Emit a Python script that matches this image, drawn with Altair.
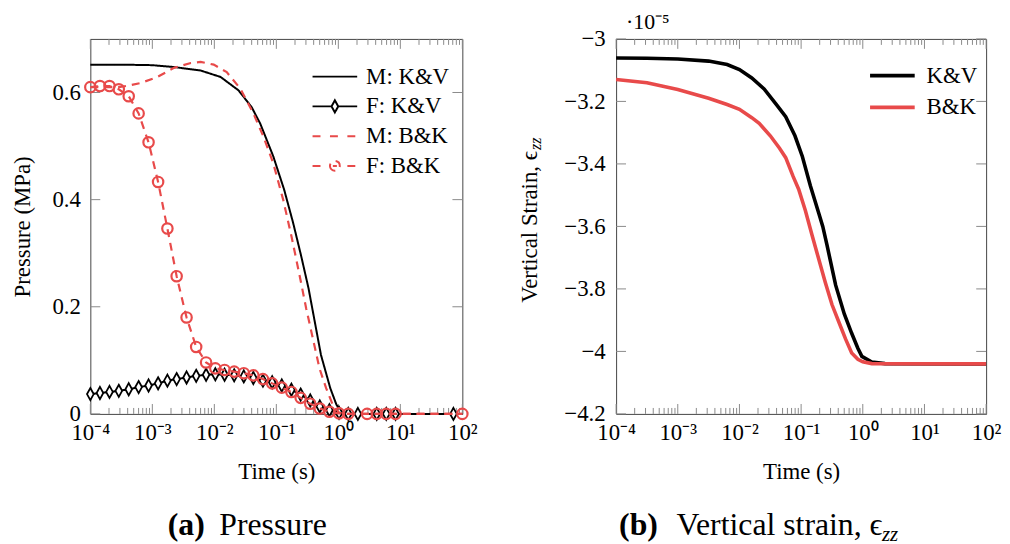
import altair as alt
import pandas as pd

FONT = "Liberation Serif"
RED = "#E84A4A"
BLACK = "#000000"
TICK = "#8a8a8a"

# ---------------- data: panel (a) pressure (MPa), x given as log10(time) ----------------
MKV_LT = [-4, -3.5, -3.0, -2.65, -2.22, -1.9, -1.61, -1.4, -1.26, -1.05, -0.875, -0.73,
          -0.6, -0.48, -0.38, -0.28, -0.13, -0.03, 0.06, 0.12, 2.0]
MKV_P = [0.652, 0.652, 0.651, 0.6475, 0.641, 0.629, 0.604, 0.573, 0.542, 0.481, 0.419, 0.357,
         0.295, 0.234, 0.172, 0.110, 0.048, 0.017, 0.002, 0.0, 0.0]

MBK_LT = [-4, -3.54, -3.38, -3.18, -2.92, -2.65, -2.38, -2.22, -2.01, -1.80, -1.58, -1.37,
          -1.21, -1.05, -0.89, -0.757, -0.624, -0.517, -0.411, -0.304, -0.197, -0.09, 0.016,
          0.12, 2.0]
MBK_P = [0.610, 0.610, 0.613, 0.618, 0.629, 0.646, 0.655, 0.657, 0.652, 0.638, 0.607, 0.561,
         0.518, 0.468, 0.400, 0.332, 0.258, 0.196, 0.141, 0.085, 0.048, 0.017, 0.002,
         0.0, 0.0]

FKV_LT = [-4, -3.845, -3.691, -3.541, -3.381, -3.221, -3.061, -2.907, -2.757, -2.608,
          -2.448, -2.293, -2.133, -1.984, -1.835, -1.68, -1.525, -1.371, -1.216, -1.067,
          -0.912, -0.757, -0.608, -0.453, -0.299, -0.144, 0.011, 0.16, 0.315,
          0.619, 0.773, 0.923, 1.856]
FKV_P = [0.037, 0.039, 0.041, 0.043, 0.046, 0.050, 0.053, 0.057, 0.062, 0.065,
         0.068, 0.071, 0.073, 0.074, 0.073, 0.072, 0.070, 0.067, 0.062, 0.059,
         0.053, 0.045, 0.036, 0.025, 0.014, 0.007, 0.002, 0.0, 0.0,
         0.0, 0.0, 0.0, 0.0]

FBK_LT = [-4, -3.845, -3.691, -3.541, -3.381, -3.221, -3.061, -2.907, -2.757, -2.608,
          -2.448, -2.293, -2.133, -1.984, -1.835, -1.68, -1.525, -1.371, -1.216, -1.067,
          -0.912, -0.757, -0.608, -0.453, -0.299, -0.144, 0.011, 0.16,
          0.464, 0.619, 0.773, 0.923, 2.0]
FBK_P = [0.610, 0.612, 0.612, 0.606, 0.593, 0.561, 0.507, 0.433, 0.346, 0.257,
         0.180, 0.125, 0.096, 0.085, 0.082, 0.079, 0.076, 0.072, 0.065, 0.057,
         0.049, 0.041, 0.030, 0.019, 0.010, 0.004, 0.001, 0.0,
         0.0, 0.0, 0.0, 0.0, 0.0]

SERIES_A = ["M: K&V", "F: K&V", "M: B&K", "F: B&K"]

# ---------------- data: panel (b) vertical strain (x 1e-5) ----------------
KV_LT = [-4, -3.5, -3.0, -2.5, -2.2, -2.0, -1.8, -1.6, -1.4, -1.25, -1.1, -0.98, -0.85,
         -0.71, -0.649, -0.58, -0.44, -0.3, -0.18, -0.08, -0.015, 0.146, 0.36, 2.0]
KV_E = [-3.061, -3.062, -3.064, -3.071, -3.082, -3.098, -3.125, -3.16, -3.21, -3.249, -3.31,
        -3.376, -3.47, -3.56, -3.60, -3.66, -3.788, -3.88, -3.942, -3.99, -4.016, -4.034,
        -4.039, -4.04]
BK_LT = [-4, -3.5, -3.0, -2.5, -2.2, -2.0, -1.8, -1.68, -1.5, -1.35, -1.25, -1.13, -1.04,
         -0.93, -0.82, -0.61, -0.5, -0.39, -0.28, -0.18, -0.08, 0.0, 0.146, 2.0]
BK_E = [-3.130, -3.140, -3.162, -3.19, -3.21, -3.225, -3.252, -3.27, -3.31, -3.35, -3.38,
        -3.44, -3.481, -3.55, -3.63, -3.778, -3.85, -3.905, -3.96, -4.005, -4.025, -4.033,
        -4.039, -4.04]
SERIES_B = ["K&V", "B&K"]

# ---------------- axes ----------------
X_EXP = [-4, -3, -2, -1, 0, 1, 2]
X_TICKS = [10.0 ** e for e in X_EXP]
X_MINOR = [k * 10.0 ** e for e in range(-4, 2) for k in range(2, 10)]
SUP = {-4: "⁻⁴", -3: "⁻³", -2: "⁻²", -1: "⁻¹", 0: "⁰", 1: "¹", 2: "²"}
YA_TICKS = [0, 0.2, 0.4, 0.6]
YB_TICKS = [-4.2, -4.0, -3.8, -3.6, -3.4, -3.2, -3.0]

W, H = 375, 378
W2 = 373

expr = "'?'"
for e in reversed(X_EXP):
    expr = f"round(log(datum.value)/LN10) == {e} ? '{SUP[e]}' : ({expr})"
LABEL_EXPR = "'10' + (" + expr + ")"

GUIDE = dict(labelFont=FONT, titleFont=FONT, labelFontSize=23, titleFontSize=23,
             titleFontWeight="normal", labelColor="black", titleColor="black",
             grid=False, ticks=False, domain=False, tickSize=0)


def xaxis():
    return alt.Axis(values=X_TICKS, labelExpr=LABEL_EXPR, title="Time (s)",
                    labelFlush=False, labelOverlap=False, labelPadding=8,
                    titlePadding=16, **GUIDE)


def tick_layers(xs, ys, yfield, width, height, yticks):
    """Inward-pointing pgfplots style ticks on all four sides (drawn through the scales)."""
    out = []
    for vals, L in ((X_TICKS, 10), (X_MINOR, 6)):
        base = alt.Chart(pd.DataFrame({"t": vals})).mark_rule(color=TICK, strokeWidth=1)
        out.append(base.encode(x=alt.X("t:Q", scale=xs), y=alt.value(0), y2=alt.value(L)))
        out.append(base.encode(x=alt.X("t:Q", scale=xs),
                               y=alt.value(height), y2=alt.value(height - L)))
    base = alt.Chart(pd.DataFrame({yfield: yticks})).mark_rule(color=TICK, strokeWidth=1)
    out.append(base.encode(y=alt.Y(f"{yfield}:Q", scale=ys),
                           x=alt.value(0), x2=alt.value(10)))
    out.append(base.encode(y=alt.Y(f"{yfield}:Q", scale=ys),
                           x=alt.value(width), x2=alt.value(width - 10)))
    return out


def text_layer(label, x, y, size, align="left", weight="normal", style="normal",
               angle=0, baseline="alphabetic"):
    return alt.Chart(pd.DataFrame({"label": [label]})).mark_text(
        font=FONT, fontSize=size, align=align, baseline=baseline, fontWeight=weight,
        fontStyle=style, angle=angle, color="black"
    ).encode(text="label:N", x=alt.value(x), y=alt.value(y))


def long(lt, vals, name, key):
    return pd.DataFrame({"t": [10.0 ** v for v in lt], key: vals, "series": name})


# ---------------- panel (a) ----------------
xs_a = alt.Scale(type="log", domain=[1e-4, 100], nice=False)
ys_a = alt.Scale(domain=[0, 0.7], nice=False, zero=False)

kv_lines = pd.concat([long(MKV_LT, MKV_P, "M: K&V", "p"), long(FKV_LT, FKV_P, "F: K&V", "p")])
bk_lines = pd.concat([long(MBK_LT, MBK_P, "M: B&K", "p"), long(FBK_LT, FBK_P, "F: B&K", "p")])
kv_pts = long(FKV_LT, FKV_P, "F: K&V", "p")
bk_pts = long(FBK_LT, FBK_P, "F: B&K", "p")

# legend key glyphs (line + marker drawn as one symbol path each)
LEG_SYM = [
    "M-1,0L1,0",
    "M-1,0L-0.15,0M0.15,0L1,0M0,-0.27L0.15,0L0,0.27L-0.15,0Z",
    "M-1,0L-0.56,0M-0.22,0L0.22,0M0.56,0L1,0",
    "M-1,0L-0.56,0M-0.09,0L0.09,0M0.56,0L1,0"
    "M-0.22,0A0.22,0.22 0 1,0 0.22,0A0.22,0.22 0 1,0 -0.22,0",
]

legend_a = alt.Legend(
    orient="none", legendX=223, legendY=26, title=None, padding=0,
    labelFont=FONT, labelFontSize=23, labelColor="black", labelOffset=8,
    symbolSize=2025, symbolStrokeWidth=2, clipHeight=24, rowPadding=6,
    symbolFillColor="white")
color_a = alt.Color("series:N", scale=alt.Scale(domain=SERIES_A,
                    range=[BLACK, BLACK, RED, RED]), legend=legend_a)
shape_a = alt.Shape("series:N", scale=alt.Scale(domain=SERIES_A, range=LEG_SYM),
                    legend=legend_a)
dash_a = alt.StrokeDash("series:N", scale=alt.Scale(domain=SERIES_A,
                        range=[[1, 0], [1, 0], [8, 6], [8, 6]]), legend=None)

yaxis_a = alt.Axis(values=YA_TICKS, format=".1~f", title="Pressure (MPa)",
                   labelPadding=10, titlePadding=18, **GUIDE)

# empty layer that carries the legend (colour + key glyph per series)
legend_layer = alt.Chart(pd.DataFrame({"t": [], "p": [], "series": []})).mark_point(
    filled=False, strokeWidth=2, opacity=1).encode(
    x=alt.X("t:Q", scale=xs_a, axis=xaxis()), y=alt.Y("p:Q", scale=ys_a, axis=yaxis_a),
    color=color_a, shape=shape_a)
kv_layer = alt.Chart(kv_lines).mark_line(strokeWidth=2).encode(
    x=alt.X("t:Q", scale=xs_a), y=alt.Y("p:Q", scale=ys_a),
    color=color_a, strokeDash=dash_a, detail="series:N")
diam_layer = alt.Chart(kv_pts).mark_point(
    shape="M0,-1L0.55,0L0,1L-0.55,0Z", size=150, filled=True, fill="white",
    stroke=BLACK, strokeWidth=1.8, opacity=1).encode(
    x=alt.X("t:Q", scale=xs_a), y=alt.Y("p:Q", scale=ys_a))
bk_layer = alt.Chart(bk_lines).mark_line(strokeWidth=2.2).encode(
    x=alt.X("t:Q", scale=xs_a), y=alt.Y("p:Q", scale=ys_a),
    color=color_a, strokeDash=dash_a, detail="series:N")
circ_layer = alt.Chart(bk_pts).mark_point(
    shape="circle", size=110, filled=False, stroke=RED, strokeWidth=2.2, opacity=1).encode(
    x=alt.X("t:Q", scale=xs_a), y=alt.Y("p:Q", scale=ys_a))

left = alt.layer(
    legend_layer,
    *tick_layers(xs_a, ys_a, "p", W, H, YA_TICKS),
    kv_layer, diam_layer, bk_layer, circ_layer,
    text_layer("(a)", 78, 500, 32, weight="bold"),
    text_layer("Pressure", 130, 500, 32),
).properties(width=W, height=H)

# ---------------- panel (b) ----------------
xs_b = alt.Scale(type="log", domain=[1e-4, 100], nice=False)
ys_b = alt.Scale(domain=[-4.2, -3.0], nice=False, zero=False)

strain = pd.concat([long(KV_LT, KV_E, "K&V", "e"), long(BK_LT, BK_E, "B&K", "e")])
legend_b = alt.Legend(
    orient="none", legendX=254, legendY=25, title=None, padding=0,
    labelFont=FONT, labelFontSize=23, labelColor="black", labelOffset=10,
    symbolType="stroke", symbolSize=2025, symbolStrokeWidth=4, clipHeight=24,
    rowPadding=8)

strain_layer = alt.Chart(strain).mark_line(strokeWidth=3.6).encode(
    x=alt.X("t:Q", scale=xs_b, axis=xaxis()),
    y=alt.Y("e:Q", scale=ys_b, axis=alt.Axis(values=YB_TICKS, format=".1~f", title=None,
                                             labelPadding=11, **GUIDE)),
    color=alt.Color("series:N", scale=alt.Scale(domain=SERIES_B, range=[BLACK, RED]),
                    legend=legend_b),
    detail="series:N")

right = alt.layer(
    strain_layer,
    *tick_layers(xs_b, ys_b, "e", W2, H, YB_TICKS),
    text_layer("·10⁻⁵", 10, -10, 22),
    text_layer("Vertical Strain, ϵ", -87, 113, 23, align="right", angle=270,
               baseline="middle"),
    text_layer("zz", -81, 112, 16, align="left", style="italic", angle=270,
               baseline="middle"),
    text_layer("(b)", 3, 500, 32, weight="bold"),
    text_layer("Vertical strain, ϵ", 61, 500, 32),
    text_layer("zz", 268, 506, 21, style="italic"),
).properties(width=W2, height=H)

chart = alt.hconcat(left, right, spacing=40).resolve_scale(
    color="independent", shape="independent", strokeDash="independent"
).resolve_legend(color="independent", shape="independent").properties(
    padding={"left": 2, "top": 0, "right": 0, "bottom": 0}
).configure_view(stroke="#444444", strokeWidth=1).configure_axis(**GUIDE)

chart.save("out.html", embed_options={"renderer": "svg", "actions": False})
